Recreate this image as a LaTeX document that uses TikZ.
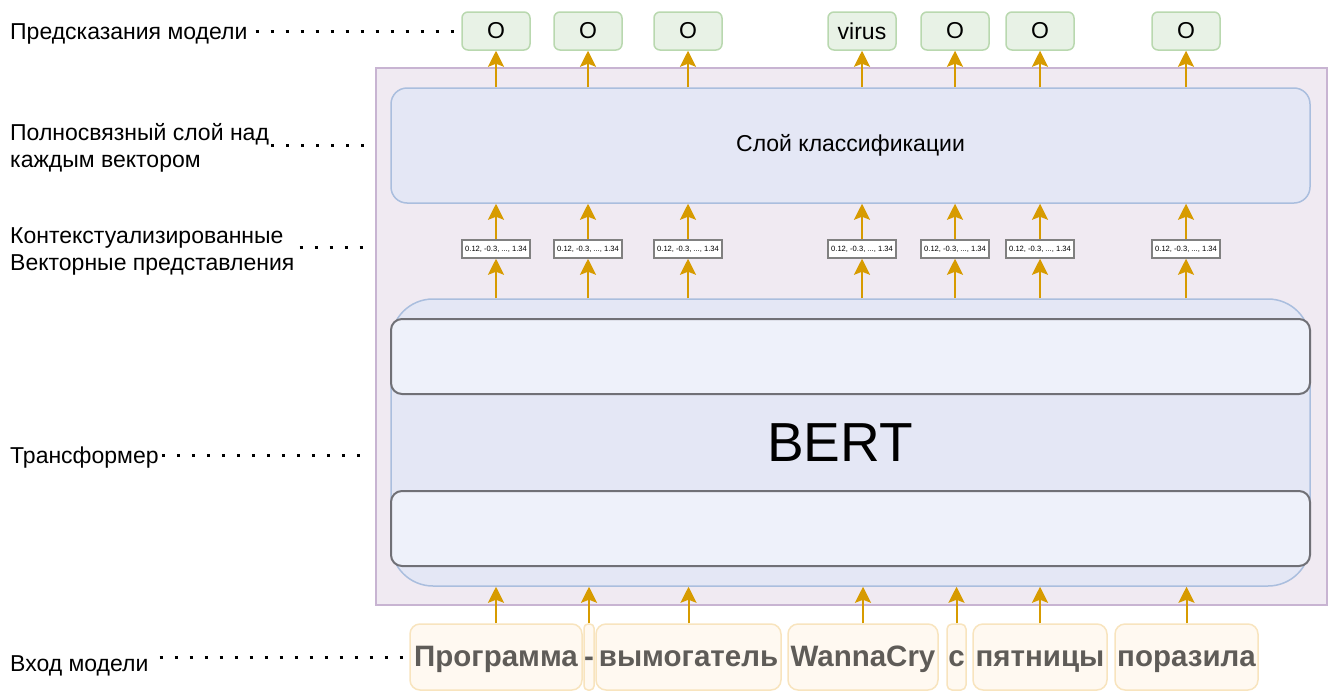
\documentclass[tikz,border=0pt]{standalone}
\usepackage{fontspec}
\setmainfont{Liberation Sans}
\usetikzlibrary{arrows.meta}

\definecolor{outerfill}{RGB}{240,234,242}
\definecolor{outerline}{RGB}{200,180,210}
\definecolor{bluefill}{RGB}{228,231,245}
\definecolor{blueline}{RGB}{170,190,222}
\definecolor{layerfill}{RGB}{238,241,250}
\definecolor{layerline}{RGB}{112,112,118}
\definecolor{predfill}{RGB}{232,242,230}
\definecolor{predline}{RGB}{185,216,175}
\definecolor{tokfill}{RGB}{255,249,241}
\definecolor{tokline}{RGB}{248,228,190}
\definecolor{toktext}{RGB}{95,92,88}
\definecolor{arrowcol}{RGB}{215,155,0}
\definecolor{vecline}{RGB}{128,128,128}

\tikzset{
  lab/.style={anchor=west, inner sep=0pt, align=left, font=\fontsize{23}{26.5}\selectfont},
  dots/.style={line width=3pt, dash pattern=on 3pt off 12pt, black},
  outerbox/.style={draw=outerline, fill=outerfill, line width=1.5pt, inner sep=0pt},
  bluebox/.style={draw=blueline, fill=bluefill, line width=1.5pt, inner sep=0pt},
  layerbox/.style={draw=layerline, fill=layerfill, line width=2pt, rounded corners=11pt, inner sep=0pt,
    minimum width=919pt, minimum height=75pt},
  predbox/.style={draw=predline, fill=predfill, line width=1.5pt, rounded corners=6pt, inner sep=0pt,
    minimum width=68pt, minimum height=38pt, font=\fontsize{23}{27}\selectfont},
  vecbox/.style={draw=vecline, fill=white, line width=1.5pt, inner sep=0pt,
    minimum width=68pt, minimum height=18pt, font=\fontsize{7.6}{9}\selectfont},
  tokbox/.style={draw=tokline, fill=tokfill, line width=1.5pt, rounded corners=10pt, inner sep=0pt,
    minimum height=66pt, text height=21pt, text depth=2pt, text=toktext,
    font=\fontsize{29.5}{34}\selectfont\bfseries},
  arr/.style={draw=arrowcol, line width=2pt, -{Stealth[length=16pt, width=16pt, inset=3pt]}},
}

\begin{document}
\begin{tikzpicture}[x=1pt, y=-1pt]
\useasboundingbox (0,0) rectangle (1331,691);

% containers
\node[outerbox, minimum width=951pt, minimum height=537pt] (outer) at (851.5,336.5) {};
\node[bluebox, rounded corners=16pt, minimum width=919pt, minimum height=115pt,
      font=\fontsize{23}{27}\selectfont] (cls) at (850.5,145.5) {Слой классификации};
\node[bluebox, rounded corners=42pt, minimum width=919pt, minimum height=287pt] (bert) at (850.5,442.5) {};
\node[layerbox] (layertop) at (850.5,356.5) {};
\node[layerbox] (layerbot) at (850.5,528.5) {};
\node[font=\fontsize{55}{62}\selectfont, inner sep=0pt] (bertname) at (840,443) {BERT};

% predictions and vectors per column
\foreach \i/\x/\t in {1/496/O, 2/588/O, 3/688/O, 4/862/virus, 5/955/O, 6/1040/O, 7/1186/O} {
  \node[predbox] (p\i) at (\x,31) {\t};
  \node[vecbox] (v\i) at (\x,249) {0.12, -0.3, ..., 1.34};
  \draw[arr] (cls.north -| p\i) -- (p\i.south);
  \draw[arr] (v\i.north) -- (v\i |- cls.south);
  \draw[arr] (bert.north -| v\i) -- (v\i.south);
}

% input tokens
\node[tokbox, minimum width=172pt] (t1) at (496,657) {Программа};
\node[tokbox, rounded corners=4pt, minimum width=10pt] (t2) at (589,657) {-};
\node[tokbox, minimum width=185pt] (t3) at (688.5,657) {вымогатель};
\node[tokbox, minimum width=150pt] (t4) at (863,657) {WannaCry};
\node[tokbox, rounded corners=5pt, minimum width=19pt] (t5) at (956.5,657) {с};
\node[tokbox, minimum width=134pt] (t6) at (1040,657) {пятницы};
\node[tokbox, minimum width=143pt] (t7) at (1186.5,657) {поразила};
\foreach \i in {1,...,7} {
  \draw[arr] (t\i.north) -- (t\i |- bert.south);
}

% level labels
\node[lab, anchor=base west] (l1) at (10,39) {Предсказания модели};
\node[lab] (l2) at (10,148) {Полносвязный слой над\\каждым вектором};
\node[lab] (l3) at (10,251.5) {Контекстуализированные\\Векторные представления};
\node[lab, anchor=base west] (l4) at (10,463) {Трансформер};
\node[lab, anchor=base west] (l5) at (10,671) {Вход модели};

\coordinate (d2) at (366,145);
\coordinate (d3) at (366,247);
\coordinate (d4) at (366,455);

\draw[dots] ([xshift=8pt]l1.east |- p1.west) -- (p1.west);
\draw[dots] ([xshift=2pt]l2.east |- d2) -- (d2);
\draw[dots] ([xshift=5pt]l3.east |- d3) -- (d3);
\draw[dots] ([xshift=3pt]l4.east |- d4) -- (d4);
\draw[dots] ([xshift=11pt]l5.east |- t1.west) -- (t1.west);
\end{tikzpicture}
\end{document}
